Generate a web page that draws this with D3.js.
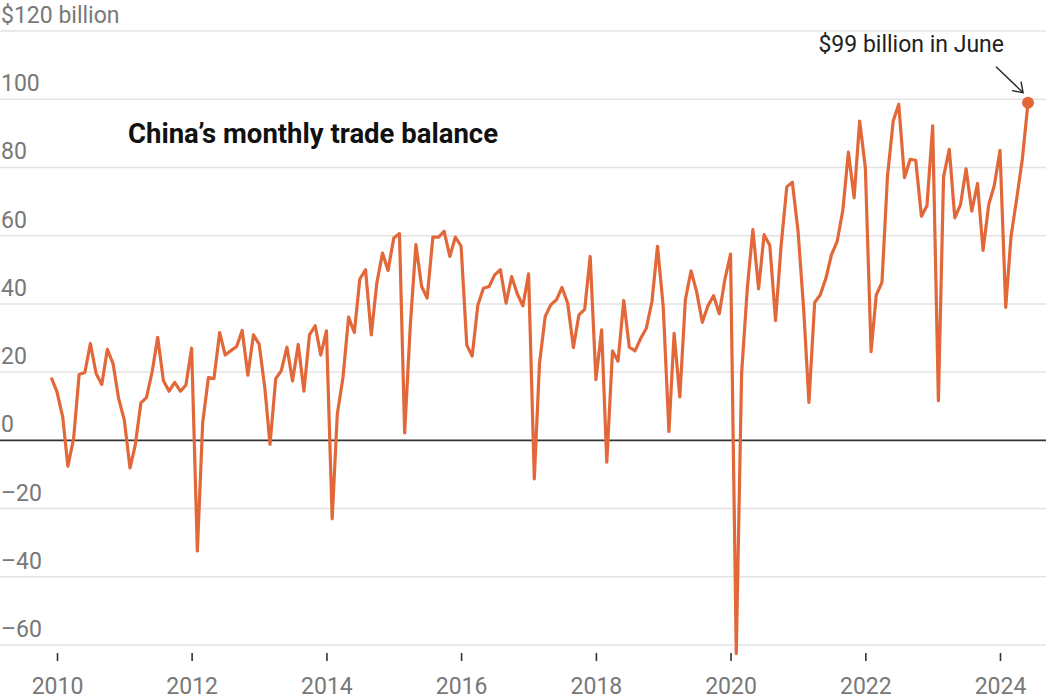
<!DOCTYPE html>
<html lang="en">
<head>
    <meta charset="UTF-8">
    <script src="https://d3js.org/d3.v7.min.js"></script>
    <title>China's monthly trade balance</title>
</head>
<style>
    body{
        margin: 0;
        background: #fff;
    }
    text{
        font-family: Roboto, "Noto Sans", sans-serif;
    }
    .grid line{
        stroke: #e3e3e3;
        stroke-width: 1.5;
    }
    .ylabel, .xlabel{
        fill: #787878;
        font-size: 23px;
    }
</style>
<body>
    <div id='grafico'></div>
</body>
<script>
    // monthly trade balance, billions of dollars, from Dec 2009 to Jun 2024
    var firstMonth = new Date(2009, 11, 1)
    var balance = [
        18.4,
        14.2, 6.9, -7.6, 0.5, 19.3, 19.9, 28.4, 19.6, 16.4, 26.7, 22.5, 12.3,
        5.9, -8.1, -1.5, 11.0, 12.5, 20.1, 30.2, 17.5, 14.4, 17.0, 14.4, 16.2,
        27.0, -32.4, 5.2, 18.4, 18.1, 31.6, 25.0, 26.3, 27.5, 32.2, 19.1, 30.9,
        28.2, 15.3, -1.2, 18.1, 20.4, 27.3, 17.4, 28.1, 14.4, 30.9, 33.6, 25.0,
        32.1, -23.0, 7.8, 18.6, 36.1, 31.6, 47.3, 50.0, 30.9, 46.1, 54.9, 49.8,
        59.3, 60.6, 2.2, 34.0, 57.4, 45.1, 41.7, 59.6, 59.6, 61.3, 53.9, 59.6,
        56.9, 27.9, 24.7, 39.7, 44.6, 45.1, 48.5, 50.0, 40.2, 48.0, 42.9, 39.4,
        48.8, -11.3, 22.5, 36.3, 39.7, 41.2, 44.8, 40.2, 27.2, 36.8, 38.4, 53.9,
        17.8, 32.4, -6.4, 26.2, 23.2, 41.0, 27.3, 26.2, 29.9, 32.8, 40.7, 56.9,
        39.2, 2.6, 31.4, 12.7, 41.2, 49.7, 43.6, 34.6, 39.5, 42.4, 37.1, 47.1,
        54.6, -62.5, 19.6, 44.6, 61.8, 44.4, 60.3, 57.1, 35.1, 57.0, 74.3, 75.7,
        61.3, 38.0, 11.1, 40.4, 42.6, 47.5, 54.4, 58.3, 67.5, 84.5, 71.1, 93.6,
        79.9, 26.0, 42.6, 46.3, 77.5, 93.6, 98.5, 77.0, 82.4, 82.1, 65.7, 68.8,
        92.2, 11.6, 77.3, 85.3, 65.2, 69.1, 79.6, 67.2, 75.3, 55.7, 69.1, 74.7,
        85.0, 39.0, 59.8, 71.0, 82.4, 99.0
    ]
    var yTicks = [-60, -40, -20, 0, 20, 40, 60, 80, 100, 120]
    var xTickYears = [2010, 2012, 2014, 2016, 2018, 2020, 2022, 2024]
    var title = 'China\u2019s monthly trade balance'
    var note = '$99 billion in June'

    var dados = balance.map((valor, i) => {
        return {data: d3.timeMonth.offset(firstMonth, i), valor: valor}
    })

    var svg = d3.select('#grafico')
    .append('svg')
    .attr('width', 1050)
    .attr('height', 700)

    var xScale = d3.scaleTime()
    .domain([new Date(2010, 0, 1), new Date(2024, 0, 1)])
    .range([57, 1000])

    var yScale = d3.scaleLinear()
    .domain([-60, 120])
    .range([645, 31])

    var rotulo = (v) => {
        if (v == 120) return '$120 billion'
        return v < 0 ? '\u2013' + Math.abs(v) : String(v)
    }

    var grade = svg.append('g').attr('class', 'grid')

    grade.selectAll('line')
    .data(yTicks.filter(v => v != 0))
    .enter()
    .append('line')
    .attr('x1', 0)
    .attr('x2', 1046)
    .attr('y1', d => yScale(d))
    .attr('y2', d => yScale(d))

    svg.selectAll('.ylabel')
    .data(yTicks)
    .enter()
    .append('text')
    .attr('class', 'ylabel')
    .attr('x', 1)
    .attr('y', d => yScale(d) - 8)
    .text(rotulo)

    svg.append('line')
    .attr('x1', 0)
    .attr('x2', 1046)
    .attr('y1', yScale(0))
    .attr('y2', yScale(0))
    .style('stroke', '#333')
    .style('stroke-width', 1.6)

    var xAxis = d3.axisBottom(xScale)
    .tickValues(xTickYears.map(a => new Date(a, 0, 1)))
    .tickFormat(d3.timeFormat('%Y'))
    .tickSize(8)
    .tickPadding(17)

    var eixoX = svg.append('g')
    .attr('transform', 'translate(0, 653)')
    .call(xAxis)

    eixoX.select('.domain').remove()
    eixoX.selectAll('line').style('stroke', '#333').style('stroke-width', 1.6)
    eixoX.selectAll('text')
    .attr('class', 'xlabel')
    .attr('font-family', null)
    .attr('font-size', null)
    .attr('fill', null)

    var linha = d3.line()
    .x(d => xScale(d.data))
    .y(d => yScale(d.valor))

    svg.append('path')
    .datum(dados)
    .attr('d', linha)
    .style('fill', 'none')
    .style('stroke', '#e2683a')
    .style('stroke-width', 3.2)
    .style('stroke-linejoin', 'round')

    var ultimo = dados[dados.length - 1]

    svg.append('circle')
    .attr('cx', xScale(ultimo.data))
    .attr('cy', yScale(ultimo.valor))
    .attr('r', 6)
    .style('fill', '#e2683a')

    svg.append('text')
    .attr('x', 128)
    .attr('y', 143)
    .style('font-size', '27.5px')
    .style('font-weight', 700)
    .style('fill', '#111')
    .text(title)

    svg.append('text')
    .attr('x', 1004)
    .attr('y', 52)
    .attr('text-anchor', 'end')
    .style('font-size', '23px')
    .style('fill', '#222')
    .text(note)

    // seta da anotação
    var px = xScale(ultimo.data) - 5, py = yScale(ultimo.valor) - 10
    svg.append('path')
    .attr('d', `M${px - 27},${py - 26} L${px},${py}`)
    .style('fill', 'none')
    .style('stroke', '#222')
    .style('stroke-width', 1.4)

    svg.append('path')
    .attr('d', `M${px - 11},${py - 2} L${px},${py} L${px - 2},${py - 11}`)
    .style('fill', 'none')
    .style('stroke', '#222')
    .style('stroke-width', 1.4)
</script>
</html>
